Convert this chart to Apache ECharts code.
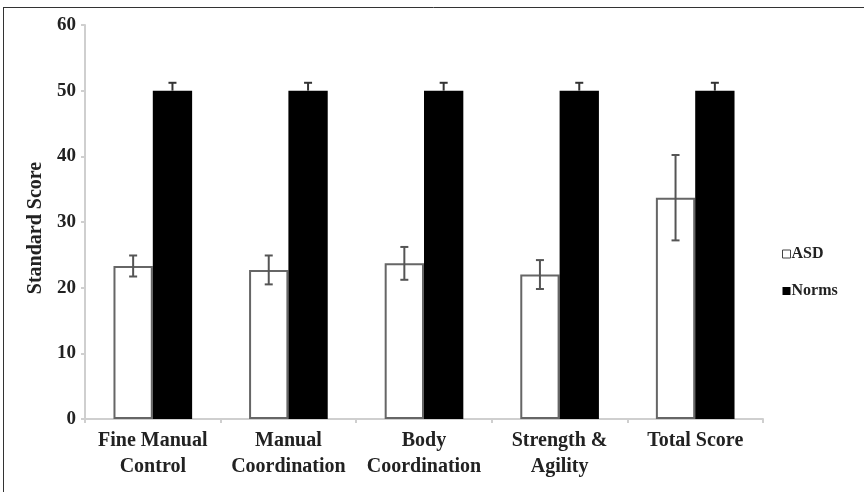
<!DOCTYPE html>
<html>
<head>
<meta charset="utf-8">
<script src="https://cdn.jsdelivr.net/npm/echarts@6/dist/echarts.min.js"></script>
<style>
html,body{margin:0;padding:0;background:#fff;overflow:hidden;}
#chart{width:864px;height:492px;}
</style>
</head>
<body>
<div id="chart"></div>
<script>
const categories = ['Fine Manual\nControl', 'Manual\nCoordination', 'Body\nCoordination', 'Strength &\nAgility', 'Total Score'];
const asdValues = [23.3, 22.7, 23.7, 22.0, 33.7];
const asdErrors = [1.6, 2.2, 2.5, 2.2, 6.5];
const normValues = [50, 50, 50, 50, 50];
const normErrors = [1.2, 1.2, 1.2, 1.2, 1.2];
const yTicks = [0, 10, 20, 30, 40, 50, 60];

const FONT = '"Liberation Serif", "DejaVu Serif", serif';
const BAR_FRAC = 0.29;

function errRender(sign, color, upperOnly) {
  return function (params, api) {
    const idx = api.value(0);
    const v = api.value(1);
    const e = api.value(2);
    const band = api.size([1, 0])[0];
    const off = sign * band * BAR_FRAC / 2;
    const top = api.coord([idx, v + e]);
    const mid = api.coord([idx, v]);
    const bot = api.coord([idx, v - e]);
    const x = top[0] + off;
    const cap = 4;
    const style = { stroke: color, lineWidth: 2 };
    const children = [
      { type: 'line', shape: { x1: x, y1: top[1], x2: x, y2: upperOnly ? mid[1] : bot[1] }, style },
      { type: 'line', shape: { x1: x - cap, y1: top[1], x2: x + cap, y2: top[1] }, style }
    ];
    if (!upperOnly) {
      children.push({ type: 'line', shape: { x1: x - cap, y1: bot[1], x2: x + cap, y2: bot[1] }, style });
    }
    return { type: 'group', children };
  };
}

const chart = echarts.init(document.getElementById('chart'), null, { renderer: 'canvas' });
chart.setOption({
  animation: false,
  backgroundColor: '#fff',
  textStyle: { fontFamily: FONT },
  graphic: [
    { type: 'line', shape: { x1: 3, y1: 7.5, x2: 864, y2: 7.5 }, style: { stroke: '#333', lineWidth: 1 }, z: -1 },
    { type: 'line', shape: { x1: 3.5, y1: 7, x2: 3.5, y2: 492 }, style: { stroke: '#333', lineWidth: 1 }, z: -1 }
  ],
  grid: { left: 85, right: 101, top: 25, bottom: 73, containLabel: false },
  legend: {
    orient: 'vertical',
    left: 777,
    top: 241,
    itemWidth: 8,
    itemHeight: 8,
    itemGap: 21,
    textStyle: { fontFamily: FONT, fontWeight: 'bold', fontSize: 16, color: '#222', padding: [0, 0, 0, -4] },
    data: [
      { name: 'ASD', icon: 'rect', itemStyle: { color: '#fff', borderColor: '#444', borderWidth: 1 } },
      { name: 'Norms', icon: 'rect', itemStyle: { color: '#000' } }
    ]
  },
  xAxis: {
    type: 'category',
    data: categories,
    axisLine: { lineStyle: { color: '#cfcfcf', width: 2 } },
    axisTick: { show: true, alignWithLabel: false, length: 4, lineStyle: { color: '#cfcfcf', width: 2 } },
    axisLabel: { interval: 0, fontFamily: FONT, fontWeight: 'bold', fontSize: 20, color: '#222', lineHeight: 26, margin: 9 }
  },
  yAxis: {
    type: 'value',
    min: 0,
    max: 60,
    interval: 10,
    name: 'Standard Score',
    nameLocation: 'middle',
    nameGap: 37,
    nameTextStyle: { fontFamily: FONT, fontWeight: 'bold', fontSize: 20, color: '#222', padding: [0, 12, 0, 0] },
    axisLine: { show: true, lineStyle: { color: '#cfcfcf', width: 2 } },
    axisTick: { show: true, length: 4, lineStyle: { color: '#cfcfcf', width: 2 } },
    splitLine: { show: false },
    axisLabel: {
      fontFamily: FONT, fontWeight: 'bold', fontSize: 19, color: '#222', margin: 9,
      formatter: function (v) { return yTicks.indexOf(v) >= 0 ? String(v) : ''; }
    }
  },
  series: [
    {
      name: 'ASD', type: 'bar', data: asdValues, barWidth: (BAR_FRAC * 100) + '%', barGap: '0%',
      itemStyle: { color: '#fff', borderColor: '#666', borderWidth: 2 }
    },
    {
      name: 'Norms', type: 'bar', data: normValues, barWidth: (BAR_FRAC * 100) + '%', barGap: '0%',
      itemStyle: { color: '#000' }
    },
    {
      name: 'ASD err', type: 'custom', renderItem: errRender(-1, '#555', false),
      data: asdValues.map((v, i) => [i, v, asdErrors[i]]), z: 5, silent: true
    },
    {
      name: 'Norms err', type: 'custom', renderItem: errRender(1, '#333', true),
      data: normValues.map((v, i) => [i, v, normErrors[i]]), z: 5, silent: true
    }
  ]
});
</script>
</body>
</html>
